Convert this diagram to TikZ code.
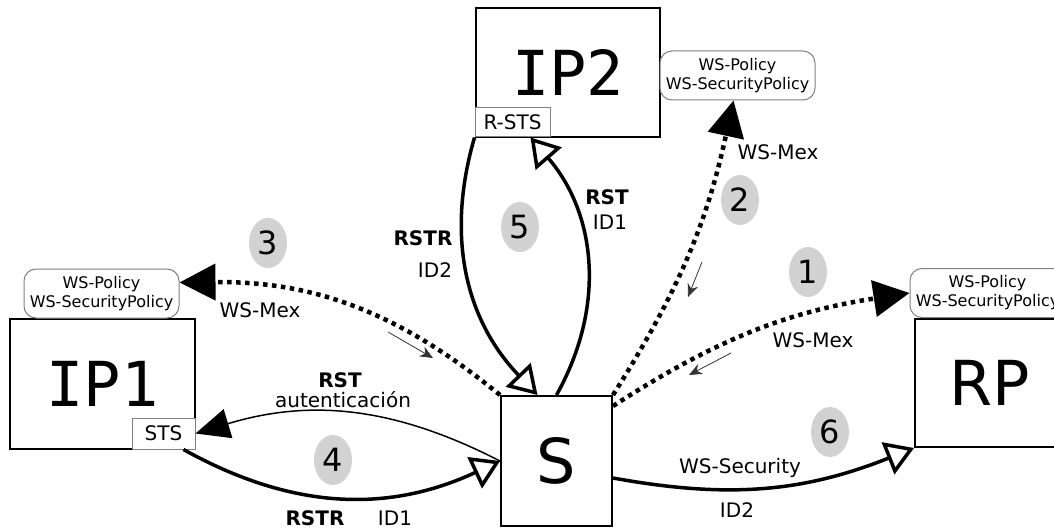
\documentclass[tikz,border=0pt]{standalone}
\usepackage{fontspec}
\setmainfont{DejaVu Sans}
\newfontfamily\bigmono{DejaVu Sans Mono}
\usetikzlibrary{arrows.meta,shapes.geometric}

\begin{document}
\begin{tikzpicture}[x=1pt,y=-1pt,
  box/.style={draw,line width=2pt,inner sep=0pt,font=\fontsize{62}{70}\selectfont},
  policy/.style={draw=gray,line width=1pt,rounded corners=12pt,fill=white,inner sep=0pt,
    minimum width=155pt,minimum height=49pt,align=center,font=\fontsize{16}{19}\selectfont},
  sts/.style={draw=gray,line width=1pt,fill=white,inner sep=0pt,font=\fontsize{20}{24}\selectfont},
  num/.style={ellipse,fill=gray!35,inner sep=0pt,minimum width=38pt,minimum height=50pt,
    font=\fontsize{32}{36}\selectfont},
  lbl/.style={inner sep=0pt,font=\fontsize{20}{24}\selectfont},
  blbl/.style={inner sep=0pt,font=\fontsize{20}{24}\selectfont\bfseries},
  mex/.style={line width=4.5pt,dash pattern=on 4.5pt off 4.5pt,-{Triangle[length=36pt,width=36pt]}},
  req/.style={line width=1.5pt,-{Triangle[length=34pt,width=30pt]}},
  resp/.style={line width=3.5pt,-{Triangle[open,length=28pt,width=34pt]}},
  hint/.style={line width=0.8pt,draw=black!80,-{Stealth[length=13pt,width=11pt]}}]
\useasboundingbox (0,0) rectangle (1054,529);
\clip (0,0) rectangle (1054,529);
% actores
\node[box,minimum width=185pt,minimum height=130pt] (IP1) at (102.5,384) {\bigmono IP1};
\node[box,minimum width=184pt,minimum height=129pt] (IP2) at (568,72.5) {\bigmono IP2};
\node[box,minimum width=111pt,minimum height=130pt] (S) at (556.5,461) {S};
\node[box,minimum width=150pt,minimum height=128pt] (RP) at (990,383) {RP};
\node[sts,minimum width=63pt,minimum height=31pt] (STS) at (163.5,433.5) {STS};
\node[sts,minimum width=75pt,minimum height=29pt] (RSTS) at (512.5,122.5) {R-STS};
% politicas
\node[policy] (pIP1) at (101.5,293.5) {WS-Policy\\WS-SecurityPolicy};
\node[policy] (pIP2) at (737.5,75.5) {WS-Policy\\WS-SecurityPolicy};
\node[policy] (pRP) at (987.5,293) {WS-Policy\\WS-SecurityPolicy};
% pasos
\node[num] (n1) at (808,272) {1};
\node[num] (n2) at (740,200) {2};
\node[num] (n3) at (268,243) {3};
\node[num] (n4) at (333,460) {4};
\node[num] (n5) at (520,227) {5};
\node[num] (n6) at (830,432) {6};
% WS-Mex
\draw[mex] ([yshift=-11pt]S.north east) to[bend left=12] (pRP.west);
\draw[mex] (S.north east) to[bend right=10] ([xshift=-4pt]pIP2.south);
\draw[mex] (S.north west) to[bend right=20] ([yshift=11pt]pIP1.east);
\node[lbl] (m1) at (813,340) {WS-Mex};
\node[lbl] (m2) at (778,152) {WS-Mex};
\node[lbl] (m3) at (260,310) {WS-Mex};
\coordinate (h1a) at (731,353); \coordinate (h1b) at (689,375);
\coordinate (h2a) at (702,262); \coordinate (h2b) at (688,297);
\coordinate (h3a) at (388,332); \coordinate (h3b) at (433,358);
\draw[hint] (h1a) -- (h1b);
\draw[hint] (h2a) -- (h2b);
\draw[hint] (h3a) -- (h3b);
% IP1
\draw[req] (S.west) to[bend right=22] (STS.east);
\draw[resp] ([xshift=20pt]STS.south) to[bend right=27] (S.west);
\node[blbl] (t4a) at (340,380) {RST};
\node[lbl] (t4b) at (343,400) {autenticación};
\node[blbl] (t4c) at (315,518) {RSTR};
\node[lbl] (t4d) at (395,518) {ID1};
% IP2
\draw[resp] (RSTS.south west) to[bend right=30] ([xshift=-19pt]S.north);
\draw[resp] (S.north) to[bend right=35] ([xshift=18pt]RSTS.south);
\node[blbl] (t5a) at (423,238) {RSTR};
\node[lbl] (t5b) at (435,270) {ID2};
\node[blbl] (t5c) at (607,197) {RST};
\node[lbl] (t5d) at (610,222) {ID1};
% RP
\draw[resp] ([yshift=-17pt]S.east) to[bend right=16] (RP.south west);
\node[lbl] (t6a) at (740,468) {WS-Security};
\node[lbl] (t6b) at (737,510) {ID2};
\end{tikzpicture}
\end{document}
